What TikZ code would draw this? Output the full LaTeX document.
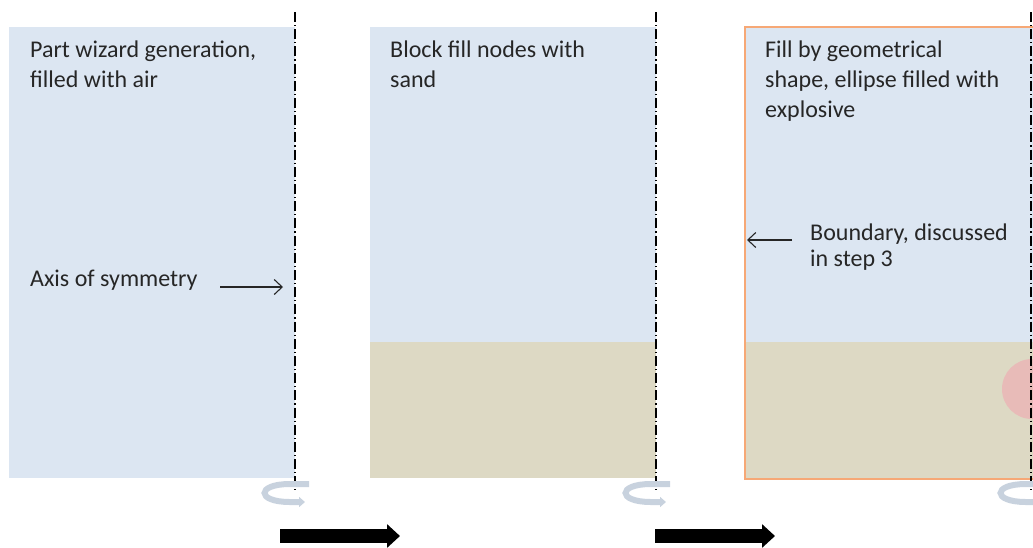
\documentclass[tikz,border=0pt]{standalone}
\usepackage{fontspec}
\setmainfont{Carlito}
\usetikzlibrary{arrows.meta}
\definecolor{airblue}{RGB}{220,230,242}
\definecolor{sandfill}{RGB}{221,217,196}
\definecolor{boundary}{RGB}{246,168,118}
\definecolor{explosive}{RGB}{234,182,182}
\definecolor{ringgray}{RGB}{200,210,222}
\tikzset{
  panel/.style={fill=airblue, draw=none},
  sandlayer/.style={fill=sandfill, draw=none},
  axisline/.style={line width=1.1pt, dash pattern=on 10pt off 3pt on 1.2pt off 3pt},
  ring/.style={draw=ringgray, line width=6pt, -{Triangle[length=6pt,width=10pt]}},
  caption/.style={font=\fontsize{24}{30}\selectfont, align=left, inner sep=0pt, anchor=north west, text=black!85},
  pointer/.style={line width=1.1pt, draw=black!85, -{Straight Barb[length=8pt,width=15pt]}},
  stepto/.style={line width=14pt, -{Triangle[length=13pt,width=23pt]}}
}
\begin{document}
\begin{tikzpicture}[x=1pt,y=-1pt]
\useasboundingbox (0,0) rectangle (1033,547);

% panel 1: part filled with air
\fill[panel] (9,27) rectangle (295,478);
\node[caption] (cap1) at (30,41) {Part wizard generation,\\filled with air};
\node[caption, anchor=base west] (axlabel) at (30,286) {Axis of symmetry};
\coordinate (ax1top) at (295,12);
\coordinate (ax1bot) at (295,490);
\coordinate (ax1hit) at (283,287);
\draw[axisline] (ax1top) -- (ax1bot);
\draw[pointer] (ax1hit -| 220,0) -- (ax1hit);
\draw[ring] (309,484) -- (290,484) .. controls (256,484) and (256,502) .. (290,502) -- (305,502);

% panel 2: block fill with sand
\fill[panel] (370,27) rectangle (656,478);
\fill[sandlayer] (370,342) rectangle (656,478);
\node[caption] (cap2) at (390,41) {Block fill nodes with\\sand};
\coordinate (ax2top) at (656,12);
\coordinate (ax2bot) at (656,490);
\draw[axisline] (ax2top) -- (ax2bot);
\draw[ring] (670,484) -- (651,484) .. controls (617,484) and (617,502) .. (651,502) -- (666,502);

% panel 3: geometric fill, explosive ellipse
\fill[panel] (745,27) rectangle (1040,479);
\fill[sandlayer] (745,342) rectangle (1040,479);
\fill[explosive, opacity=0.85] (1032,389) circle (30);
\draw[boundary, line width=1.6pt] (1040,27) -- (745,27) -- (745,479) -- (1040,479);
\node[caption] (cap3) at (765,41) {Fill by geometrical\\shape, ellipse filled with\\explosive};
\node[caption, font=\fontsize{24}{26}\selectfont] (bdlabel) at (810,224) {Boundary, discussed\\in step 3};
\coordinate (bdhit) at (747,240);
\draw[pointer] (bdhit -| 792,0) -- (bdhit);
\coordinate (ax3top) at (1031,12);
\coordinate (ax3bot) at (1031,490);
\draw[axisline] (ax3top) -- (ax3bot);
\draw[ring] (1045,484) -- (1026,484) .. controls (992,484) and (992,502) .. (1026,502) -- (1041,502);

% step arrows between panels
\coordinate (s1a) at (280,536);
\coordinate (s1b) at (400,536);
\coordinate (s2a) at (655,536);
\coordinate (s2b) at (775,536);
\draw[stepto] (s1a) -- (s1b);
\draw[stepto] (s2a) -- (s2b);
\end{tikzpicture}
\end{document}
